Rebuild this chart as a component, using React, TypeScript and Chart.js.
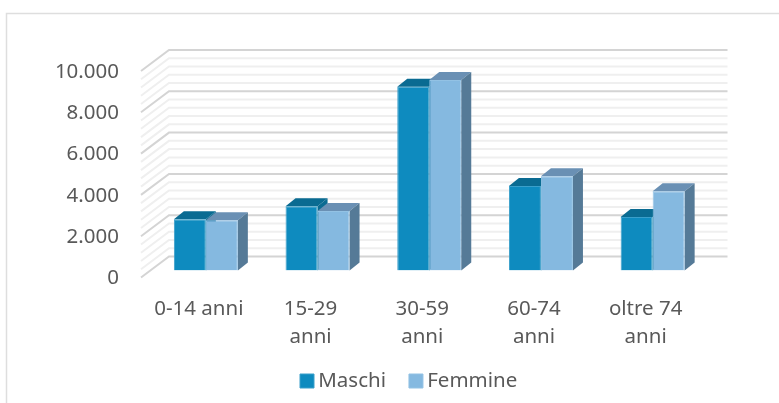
import React, { useEffect, useRef } from "react";
import { Chart, registerables } from "chart.js";

Chart.register(...registerables);

const categories: (string | string[])[] = [
  "0-14 anni",
  ["15-29", "anni"],
  ["30-59", "anni"],
  ["60-74", "anni"],
  ["oltre 74", "anni"],
];
const maschi = [2480, 3110, 8900, 4090, 2590];
const femmine = [2430, 2880, 9220, 4560, 3840];

const FONT = "'Noto Sans', sans-serif";
const FONT_SIZE = 20.5;
const TEXT = "#595959";
const TOP_COLORS = ["#0a6b92", "#6a90b4"];
const SIDE_COLORS = ["#0a6b92", "#557a97"];
const BAR_DX = 10;
const BAR_DY = 8;
const LEGEND_PADDING = 29;

const formatIt = (v: number) => (v === 0 ? "0" : `${Math.floor(v / 1000)}.${String(v % 1000).padStart(3, "0")}`);

const depthPlugin = {
  id: "depth",
  afterLayout(chart: any) {
    const legend = chart.legend;
    if (legend) {
      const w = legend.lineWidths ? legend.lineWidths[0] : 0;
      legend.left = 306 - LEGEND_PADDING;
      legend.right = legend.left + LEGEND_PADDING + w;
      legend.top = 381 - LEGEND_PADDING - FONT_SIZE / 2;
      legend.bottom = legend.top + legend.height;
    }
  },
  beforeDraw(chart: any) {
    const { ctx } = chart;
    const { left, right } = chart.chartArea;
    const y = chart.scales.y;
    ctx.save();
    ctx.strokeStyle = "#dedede";
    ctx.lineWidth = 1.5;
    ctx.beginPath();
    ctx.moveTo(6.5, 403);
    ctx.lineTo(6.5, 13.5);
    ctx.lineTo(779, 13.5);
    ctx.stroke();
    y.ticks.forEach((t: any) => {
      const py = y.getPixelForValue(t.value);
      const major = t.value % 2000 === 0;
      ctx.strokeStyle = major ? "#d4d4d4" : "#efefef";
      ctx.lineWidth = 2;
      ctx.beginPath();
      ctx.moveTo(left - 9, py + 7);
      ctx.lineTo(left + 19, py - 14);
      ctx.lineTo(right + 19, py - 14);
      ctx.stroke();
    });
    ctx.restore();
  },
  beforeDatasetsDraw(chart: any) {
    const { ctx } = chart;
    ctx.save();
    chart.data.datasets.forEach((_: any, di: number) => {
      chart.getDatasetMeta(di).data.forEach((bar: any) => {
        const props = bar.getProps(["x", "y", "base", "width"], true);
        const l = props.x - props.width / 2;
        const r = props.x + props.width / 2;
        ctx.fillStyle = TOP_COLORS[di];
        ctx.beginPath();
        ctx.moveTo(l, props.y);
        ctx.lineTo(l + BAR_DX, props.y - BAR_DY);
        ctx.lineTo(r + BAR_DX, props.y - BAR_DY);
        ctx.lineTo(r, props.y);
        ctx.closePath();
        ctx.fill();
        ctx.fillStyle = SIDE_COLORS[di];
        ctx.beginPath();
        ctx.moveTo(r, props.y);
        ctx.lineTo(r + BAR_DX, props.y - BAR_DY);
        ctx.lineTo(r + BAR_DX, props.base - BAR_DY);
        ctx.lineTo(r, props.base);
        ctx.closePath();
        ctx.fill();
      });
    });
    ctx.restore();
  },
};

export default function App() {
  const ref = useRef<HTMLCanvasElement>(null);
  useEffect(() => {
    document.body.style.margin = "0";
    const chart = new Chart(ref.current!, {
      type: "bar",
      data: {
        labels: categories as any,
        datasets: [
          { label: "Maschi", data: maschi, backgroundColor: "#0e8bbf", borderColor: "#3a9fca", borderWidth: 1 },
          { label: "Femmine", data: femmine, backgroundColor: "#85b9e0", borderColor: "#93c2e4", borderWidth: 1 },
        ],
      },
      plugins: [depthPlugin],
      options: {
        responsive: false,
        animation: false,
        layout: { padding: { left: 0, top: 64, right: 70.5, bottom: -20 } },
        datasets: { bar: { categoryPercentage: 0.573, barPercentage: 1 } },
        plugins: {
          tooltip: { enabled: false },
          legend: {
            position: "bottom",
            labels: {
              usePointStyle: true,
              pointStyle: "rect",
              boxWidth: 2,
              boxHeight: 14,
              padding: LEGEND_PADDING,
              color: TEXT,
              font: { family: FONT, size: FONT_SIZE },
            },
          },
        },
        scales: {
          x: {
            grid: { display: false },
            border: { display: false },
            ticks: {
              color: TEXT,
              font: { family: FONT, size: FONT_SIZE, lineHeight: 1.37 },
              padding: 17,
              labelOffset: -7,
              maxRotation: 0,
              minRotation: 0,
              autoSkip: false,
            },
            afterFit(s: any) {
              s.height = 93;
            },
          },
          y: {
            min: 0,
            max: 10000,
            grid: { display: false },
            border: { display: false },
            ticks: {
              stepSize: 400,
              autoSkip: false,
              color: TEXT,
              font: { family: FONT, size: FONT_SIZE },
              padding: 23,
              labelOffset: 8,
              callback: (v: any) => (v % 2000 === 0 ? formatIt(v) : ""),
            },
            afterFit(s: any) {
              s.width = 150;
            },
          },
        },
      } as any,
    });
    return () => chart.destroy();
  }, []);
  return <canvas ref={ref} width={779} height={403} style={{ display: "block" }} />;
}
